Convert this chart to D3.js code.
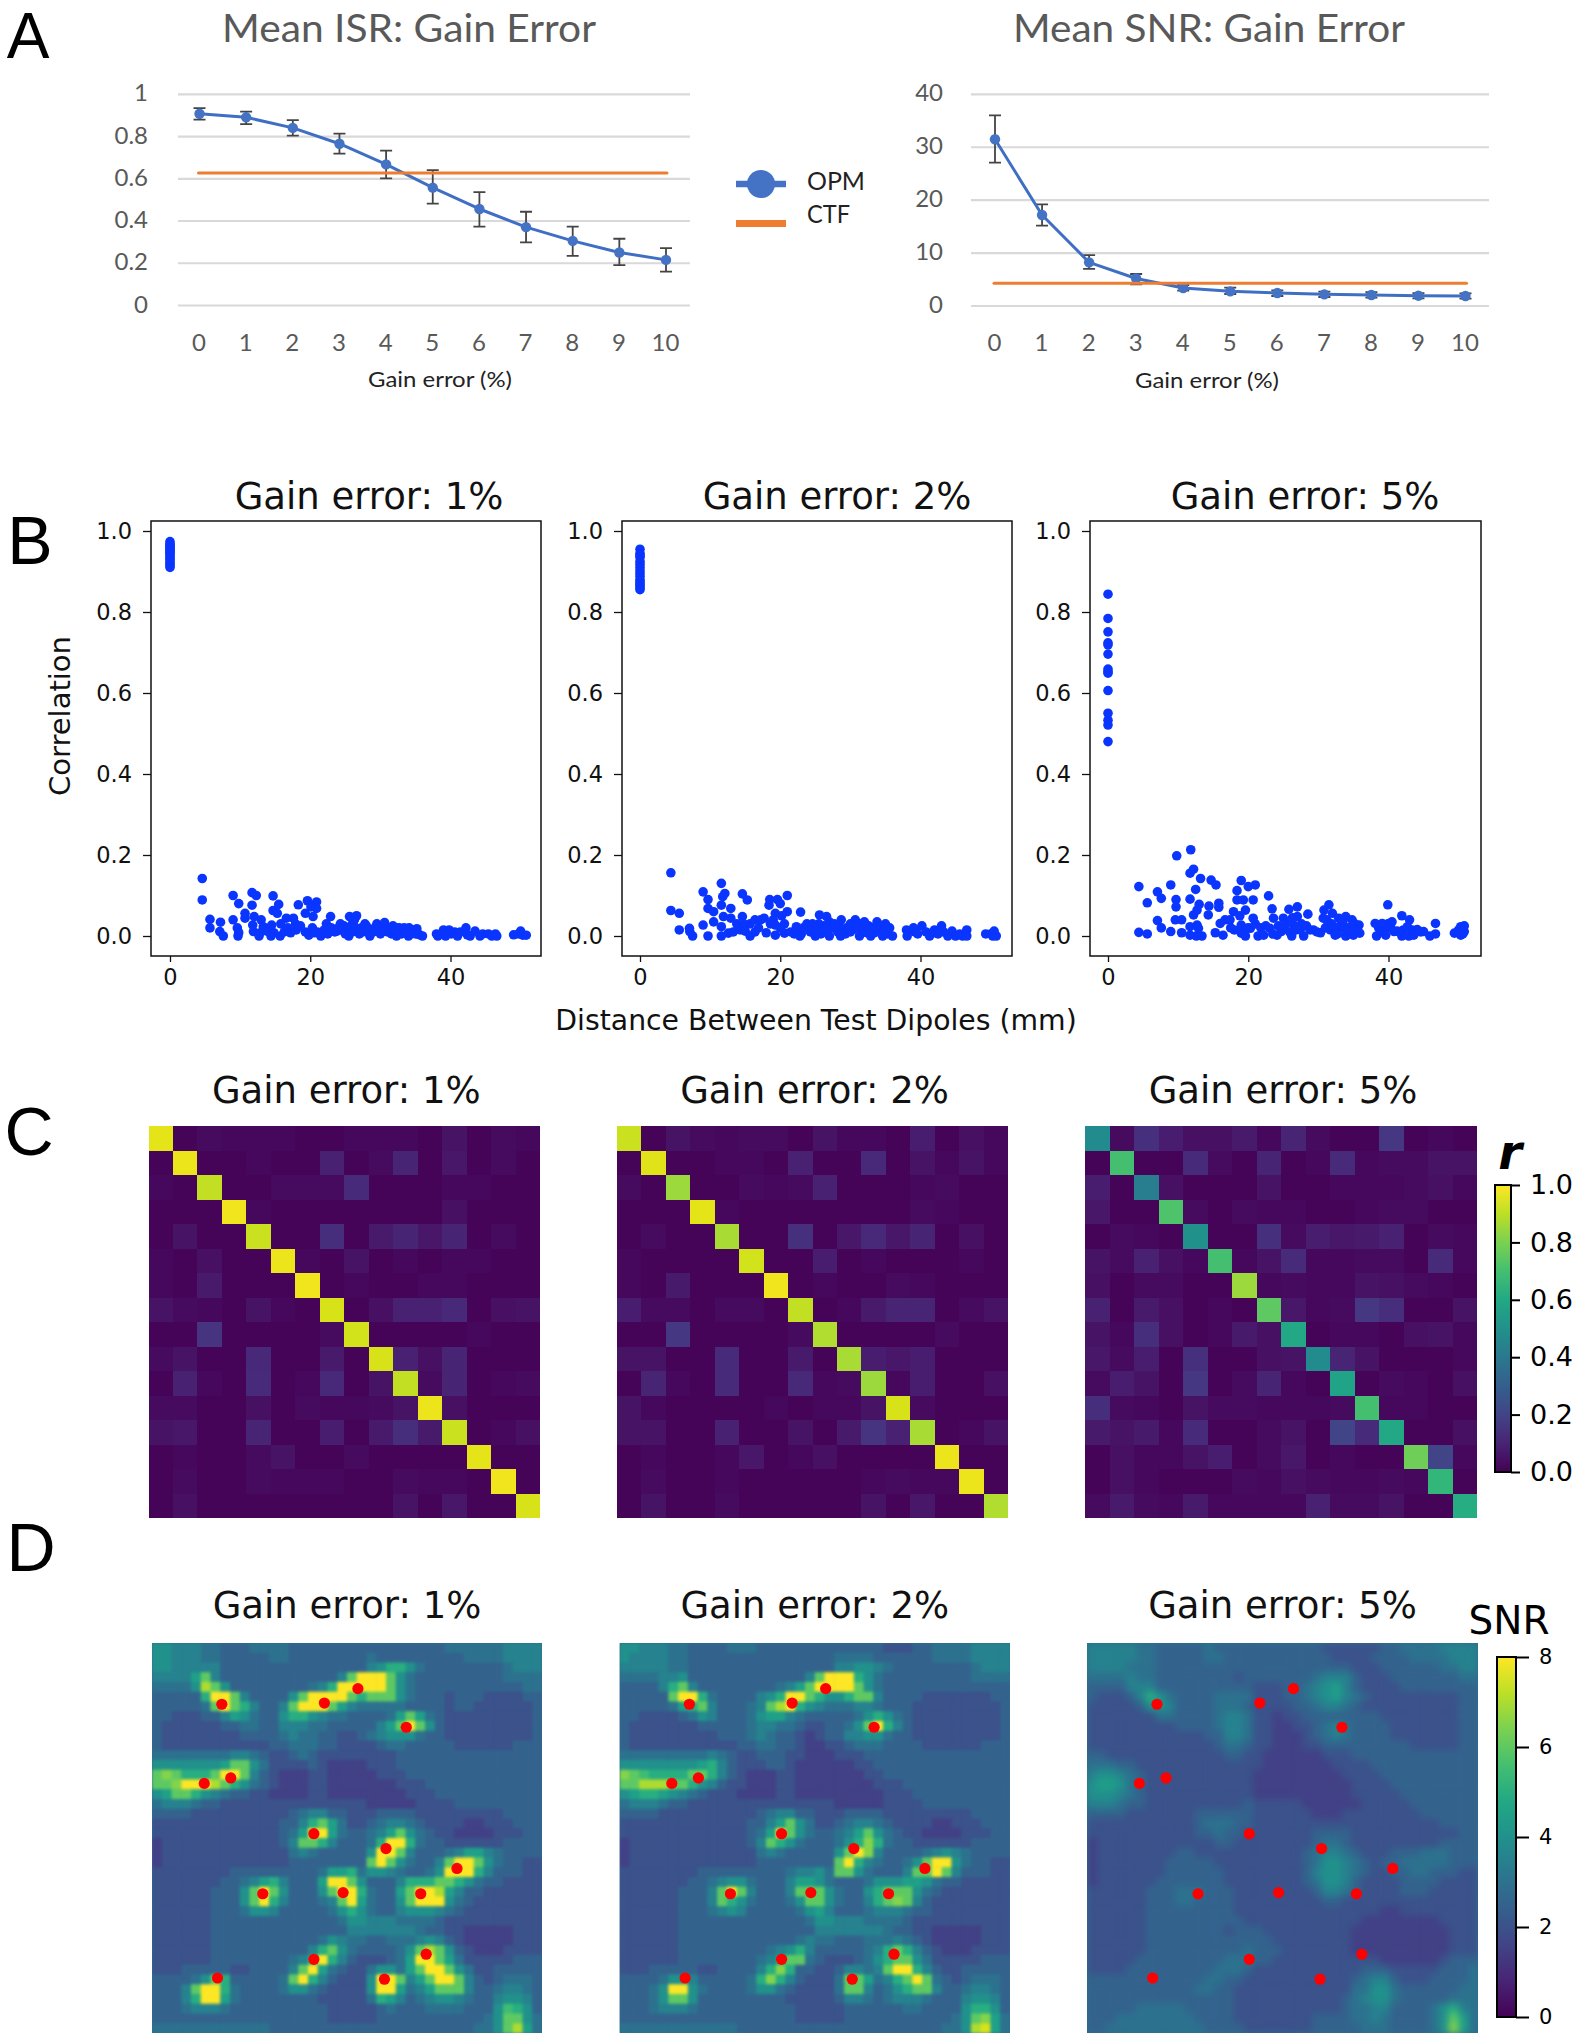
<!DOCTYPE html>
<html>
<head>
<meta charset="utf-8">
<script src="https://cdn.jsdelivr.net/npm/d3@7"></script>
<style>
  body { margin: 0; background: #fff; }
  svg { display: block; }
</style>
</head>
<body>
<svg id="fig" width="1583" height="2040"></svg>
<script>
// panel A
const gainErrors = [0, 1, 2, 3, 4, 5, 6, 7, 8, 9, 10];
const isrMean = [.908, .891, .841, .766, .668, .558, .457, .371, .306, .251, .216];
const isrLow = [.88, .859, .804, .719, .602, .482, .373, .299, .235, .191, .16];
const isrHigh = [.935, .918, .878, .814, .733, .641, .537, .444, .373, .316, .272];
const isrCtf = .627;
const isrTicks = [0, .2, .4, .6, .8, 1];
const snrMean = [31.5, 17.2, 8.25, 5.2, 3.4, 2.77, 2.46, 2.2, 2.08, 1.95, 1.89];
const snrLow = [27.1, 15.2, 7, 4.1, 2.9, 2.27, 1.89, 1.7, 1.6, 1.45, 1.39];
const snrHigh = [36, 19.2, 9.6, 6.05, 3.97, 3.46, 2.96, 2.7, 2.6, 2.45, 2.39];
const snrCtf = 4.3;
const snrTicks = [0, 10, 20, 30, 40];

// panel B: [distance mm, correlation]
const scatter1 = [[0,.974],[0,.968],[0,.962],[0,.955],[0,.95],[0,.945],[0,.94],[0,.935],[0,.93],[0,.925],[0,.92],[0,.915],[0,.91],[0,.965],[0,.958],[0,.948],
  [4.6,.142],[4.6,.089],[5.7,.041],[5.7,.02],[7.2,.034],[7.1,.011],[7.6,0],[9,.1],[9,.04],[9.8,.08],[9.6,.02],[9.7,0],[9.8,.008],[10.7,.056],[10.7,.044],[11.7,.107],[12.3,.1],[11.7,.076],[12,.048],[11.8,.027],[11.9,.011],[12.8,.007],[12.7,0],[13,.04],[13.3,.023],[14.5,.027],[14.4,0],[14.7,.099],[14.7,.063],[15.5,.078],[15.3,.056],[15.7,0],[15.8,.03],[16.3,.01],[16.6,.044],[17.6,.044],[18,.015],[18.3,.077],[19.6,.087],[19.3,.056],[20.9,.084],[20.1,.072],[20.9,.068],[20.4,.048],[19.3,.01],[19.8,.002],[20.3,.02],[20.6,.008],[21,.01],[21.5,0],
  [13.8,.012],[14.8,.008],[16.8,.02],[17.2,.008],[18.6,.025],[17.9,.03],[22.3,.03],[23.8,.012],[24.3,.03],[24.8,.025],[25.2,.02],[26,.03],[26.8,.01],[27.3,.02],[27.8,.03],[28.3,.012],[29.2,.02],[29.8,.012],[30.4,.012],[31.8,.025],[32.2,.02],[33.7,.015],[34.4,.005],
  [22.9,.048],[22,.015],[22.5,.005],[23,.02],[23.5,.01],[24,.02],[24.5,.015],[25,.005],[25.5,0],[26,.01],[26.5,.02],[26.3,.04],[25.6,.048],[27,.005],[26.6,.05],[27.5,.01],[28,.025],[28.5,0],[29,.01],[29.5,.03],[30,.005],[30,.02],[31,.01],[30.6,.033],[31.3,.02],[31.6,.005],[32,.01],[32.3,0],[32.7,.02],[33,.005],[33.4,.02],[34,0],[34.1,.02],[34.6,.015],[35,.005],[35.2,.018],[35.6,.003],[36,0],
  [38,.005],[38.2,0],[39,.015],[39.3,0],[39.8,.015],[40.1,.005],[40.6,.01],[41,0],[41.4,.01],[42.2,.02],[42.4,.003],[42.8,0],[43.5,.012],[44.2,0],[44.6,.005],[45.4,.005],[45.9,0],[46.4,.005],[46.6,0],
  [49,.003],[49.7,.005],[50,.012],[50.3,.002],[50.8,.002]];
const scatter2 = [[0,.955],[0,.945],[0,.935],[0,.925],[0,.918],[0,.91],[0,.902],[0,.895],[0,.888],[0,.88],[0,.875],[0,.87],[0,.865],[0,.86],[0,.855],[0,.94],
  [4.4,.156],[4.4,.063],[5.6,.056],[5.6,.015],[7.05,.019],[7.1,.011],[7.5,0],[9,.109],[9,.027],[9.7,.09],[9.7,.068],[9.7,0],[10.5,.06],[10.5,.035],[11.6,.13],[11.8,.097],[12.1,.105],[11.6,.076],[11.9,.048],[11.6,.023],[11.6,0],[12.95,.068],[12.95,.044],[12.6,.007],[13.3,.01],[14.3,.015],[14.6,.104],[15.3,.089],[14.6,.048],[15.7,.03],[15.7,0],[16.4,.04],[16.4,.01],[17.7,.044],[18,.008],[18.5,.09],[18.4,.076],[19.6,.09],[20,.08],[19.3,.056],[19.3,.027],[19.3,.002],[21,.1],[21,.06],[20.6,.03],[20.6,.007],[22.3,.023],[22.9,.059],
  [13.8,.03],[14.8,.03],[15,.012],[16.9,.02],[17.2,.04],[18.6,.03],[19,.04],[20,.02],[20.2,.05],[21.5,.01],[22.6,.015],[23,.005],[24,.02],[24.9,.015],[25.5,.03],[26.4,.01],[27,.035],[27.9,.02],[28.4,.025],[29.5,.02],[30.3,.015],[31.5,.03],[32.6,.025],[33.4,.008],[34,.015],[35,.03],[39.2,.01],[41.8,.008],[42.8,.015],
  [22,.005],[22.8,0],[23.3,.02],[23.8,.03],[24.3,.01],[24.6,.03],[25,0],[25.3,.015],[25.8,.005],[26.2,.025],[25.6,.052],[26.6,.048],[27,0],[27.3,.02],[27.7,.03],[28.2,.01],[28.6,0],[29,.015],[28.7,.04],[29.3,.005],[30,.01],[30,.03],[30.7,.04],[31,.02],[31.3,0],[31.8,.02],[32,.035],[32.4,.008],[32.9,0],[33.1,.02],[33.8,.035],[34.3,.025],[34.6,0],[35,.015],[35.3,.005],[35.6,.02],[36,0],
  [38,.015],[38.1,0],[39,.02],[39.6,.005],[40.2,.025],[40.8,.01],[41.3,0],[42,.015],[42.5,.005],[43,.025],[43.3,.01],[43.9,0],[44.5,.012],[45,0],[45.6,.005],[46,0],[46.6,.015],[46.6,0],
  [49.3,.005],[50,.005],[50.5,.012],[50.3,0],[50.8,0]];
const scatter3 = [[0,.844],[0,.784],[0,.751],[0,.724],[0,.719],[0,.696],[0,.659],[0,.653],[0,.649],[0,.606],[0,.55],[0,.533],[0,.521],[0,.48],
  [4.4,.122],[4.4,.009],[5.6,.082],[5.6,.005],[7.05,.109],[7.6,.093],[7.05,.038],[7.6,.02],[8.95,.126],[8.95,.011],[9.7,.09],[9.7,.072],[9.8,.198],[9.6,.04],[10.5,.04],[10.5,.008],[11.8,.213],[12.2,.165],[11.7,.155],[12.5,.115],[11.7,.091],[13.2,.142],[13,.078],[12.2,.052],[12.7,.064],[12.7,.027],[11.7,.023],[11.7,.002],[12.6,0],[13.4,0],[12.9,.019],[14.7,.138],[15.4,.126],[14.4,.074],[14.3,.052],[15.8,.081],[15.8,.071],[15.3,.008],[16.4,.002],[16,.031],[16.7,.04],[17.9,.06],[17.4,.04],[18,.015],[18.4,.112],[18.4,.089],[19,.137],[20,.122],[21,.126],[19.3,.089],[20.7,.089],[19.6,.064],[19,.027],[19,.007],[19.6,0],[20.7,.044],[20.3,.019],[21.4,0],[22.2,.002],[22.9,.099],[23.4,.067],[23.6,.044],[23.1,.019],[24.1,.002],[24.7,.011],[25,.044],[25.8,.066],[27,.072],[26.2,0],[26.5,.027],[27,.048],[27.9,0],[28.5,.054],[27.4,.015],[29.3,.015],[30.3,.008],[30.8,.064],[30.7,.044],[31.5,.077],[32,.056],[31.7,.015],[32.4,.002],[32.9,.044],[33.9,.048],[33.6,.019],[33.9,0],[34.8,.04],[35,.002],[35.8,.027],[35.9,.007],[35.3,.015],
  [17.5,.02],[18.8,.05],[20,.02],[21,.03],[21.8,.02],[22.5,.025],[23.5,.005],[24.3,.025],[24.9,.02],[25.4,.03],[25.9,.01],[26.3,.045],[26.8,.015],[27.6,.03],[28.3,.025],[28.8,.015],[29.8,.01],[31,.02],[31.2,.04],[31.9,.03],[32.3,.02],[32.7,.005],[33.1,.025],[33.5,.035],[34.2,.02],[34.5,.005],[34.9,.025],[35.2,.03],[38.6,.02],[39.4,.015],[40.3,.02],[41.2,.012],[42.1,.015],[43.4,.015],[44.6,.01],[50.6,.005],[50.1,.008],
  [38.1,.031],[38.3,0],[38.9,.011],[39.1,.031],[39.9,.077],[40,.031],[40.5,.035],[39.6,.002],[40.8,.011],[41.9,.05],[43,.04],[41.9,0],[42.9,0],[42.7,.023],[43.6,.002],[44.1,.016],[45,.011],[45.9,0],[46.7,.031],[46.7,.005],
  [49.4,.007],[50.3,.023],[50.8,.025],[50.3,.002],[50.8,.011],[50,.015]];
const corrTicks = [0, .2, .4, .6, .8, 1];
const distTicks = [0, 20, 40];

// panel C: 16 x 16 correlation matrices
const corr1 = [
  [.96,.01,.03,.02,.02,.02,.01,.01,.02,.02,.02,.01,.05,.01,.03,.02],
  [.01,.97,.01,.01,.02,.01,.01,.09,.01,.03,.10,.01,.06,.01,.03,.01],
  [.02,.01,.91,.01,.01,.03,.03,.03,.12,.01,.01,.01,.02,.02,.01,.01],
  [.01,.01,.01,.98,.02,.01,.01,.01,.01,.01,.01,.01,.04,.01,.01,.01],
  [.01,.05,.01,.01,.92,.01,.01,.13,.01,.07,.10,.06,.10,.01,.03,.01],
  [.02,.01,.04,.01,.01,.97,.02,.01,.05,.01,.02,.01,.02,.02,.01,.01],
  [.02,.01,.07,.01,.01,.01,.98,.01,.02,.01,.01,.02,.02,.01,.01,.01],
  [.05,.03,.02,.01,.05,.02,.01,.94,.01,.04,.09,.09,.11,.01,.04,.05],
  [.01,.01,.15,.01,.01,.01,.01,.03,.93,.01,.01,.01,.01,.02,.01,.01],
  [.03,.05,.01,.01,.11,.01,.01,.07,.01,.94,.09,.04,.10,.01,.01,.01],
  [.01,.09,.02,.01,.12,.01,.02,.11,.01,.05,.91,.03,.10,.01,.02,.03],
  [.03,.03,.01,.01,.04,.01,.03,.02,.02,.03,.05,.97,.04,.01,.01,.01],
  [.05,.06,.01,.01,.10,.01,.01,.08,.01,.07,.13,.07,.92,.01,.02,.04],
  [.01,.02,.01,.01,.03,.05,.01,.01,.03,.01,.01,.01,.01,.96,.01,.01],
  [.01,.03,.01,.01,.03,.02,.02,.02,.01,.01,.03,.02,.02,.01,.98,.01],
  [.01,.04,.01,.01,.01,.01,.01,.01,.01,.01,.05,.01,.06,.01,.01,.94]];
const corr2 = [
  [.92,.01,.05,.03,.02,.03,.03,.01,.05,.02,.02,.01,.08,.01,.04,.02],
  [.01,.95,.01,.01,.02,.02,.01,.09,.01,.01,.11,.01,.05,.02,.05,.02],
  [.03,.01,.85,.01,.01,.03,.02,.03,.09,.01,.01,.01,.02,.03,.01,.01],
  [.01,.01,.01,.96,.02,.01,.01,.01,.01,.01,.01,.01,.03,.02,.01,.01],
  [.01,.03,.01,.01,.87,.01,.01,.14,.01,.06,.11,.06,.10,.01,.04,.01],
  [.02,.01,.01,.01,.01,.93,.01,.01,.08,.01,.02,.01,.01,.01,.02,.01],
  [.02,.01,.07,.01,.01,.01,.98,.01,.02,.01,.01,.03,.02,.01,.01,.01],
  [.08,.03,.03,.01,.03,.03,.01,.91,.01,.02,.07,.10,.10,.01,.03,.05],
  [.01,.01,.16,.01,.01,.01,.01,.03,.88,.01,.01,.01,.01,.03,.01,.01],
  [.05,.05,.01,.01,.12,.01,.01,.07,.01,.87,.08,.06,.08,.01,.01,.01],
  [.01,.10,.02,.01,.12,.01,.01,.11,.02,.03,.85,.02,.08,.01,.01,.04],
  [.05,.02,.01,.01,.01,.01,.02,.01,.02,.02,.05,.94,.03,.01,.01,.01],
  [.05,.05,.01,.01,.09,.01,.01,.05,.01,.07,.15,.09,.87,.01,.02,.05],
  [.01,.02,.01,.01,.02,.06,.01,.02,.04,.01,.01,.01,.01,.97,.01,.01],
  [.01,.03,.01,.01,.02,.01,.01,.01,.01,.01,.02,.03,.02,.02,.97,.01],
  [.01,.05,.01,.01,.03,.01,.01,.01,.01,.01,.05,.01,.06,.01,.01,.88]];
const corr3 = [
  [.48,.03,.14,.08,.04,.04,.07,.02,.10,.03,.01,.01,.16,.01,.02,.01],
  [.01,.70,.01,.01,.12,.03,.01,.10,.01,.02,.12,.02,.03,.03,.05,.05],
  [.08,.01,.42,.04,.01,.01,.01,.05,.01,.01,.02,.02,.02,.03,.04,.02],
  [.06,.01,.01,.72,.03,.01,.03,.02,.02,.01,.01,.02,.03,.03,.01,.01],
  [.01,.03,.02,.01,.50,.01,.01,.14,.03,.08,.06,.07,.09,.01,.03,.02],
  [.05,.03,.09,.04,.02,.70,.02,.05,.12,.02,.02,.03,.03,.01,.12,.02],
  [.04,.01,.03,.03,.01,.01,.85,.02,.03,.02,.02,.05,.04,.03,.02,.01],
  [.09,.01,.07,.04,.01,.02,.01,.75,.06,.02,.03,.16,.13,.01,.01,.05],
  [.05,.02,.13,.04,.01,.02,.07,.04,.60,.01,.02,.02,.01,.04,.05,.02],
  [.06,.03,.08,.01,.14,.01,.01,.04,.05,.48,.10,.05,.01,.01,.01,.02],
  [.03,.08,.05,.01,.16,.01,.03,.10,.02,.01,.58,.01,.03,.02,.01,.04],
  [.13,.03,.02,.01,.05,.03,.03,.02,.02,.02,.03,.70,.02,.02,.01,.01],
  [.07,.05,.07,.02,.12,.01,.01,.03,.05,.01,.20,.12,.60,.01,.01,.04],
  [.01,.04,.02,.02,.05,.08,.01,.03,.06,.01,.02,.01,.01,.78,.20,.02],
  [.01,.04,.02,.01,.01,.01,.03,.02,.04,.03,.02,.02,.03,.02,.66,.01],
  [.03,.07,.03,.02,.07,.02,.02,.02,.02,.09,.03,.03,.05,.01,.01,.62]];
const rTicks = [0, .2, .4, .6, .8, 1];

// panel D: SNR maps on a 40 x 40 grid
// one base-17 digit per cell, in half SNR units, spaces only for counting
const snrMap1 = [
  "8877766555 6666555555 5555555555 6666667777",
  "8877766555 5566555555 5565555555 5566667777",
  "8877777555 5555555555 5578aa8655 5555556777",
  "77779c7555 5555555557 cgggc86555 5555556666",
  "66668ec855 55555567ag ggggc86555 5555555566",
  "55555aggc7 55558cgggg caccc86555 4555444455",
  "555556cgca 7557cgggc9 7666665555 4554444445",
  "5544455798 6558aa8766 555569c965 4444444445",
  "5444444556 6557776655 55579cgc85 4444444445",
  "5444444445 5556766554 4567888655 4444444445",
  "5444444444 4455666554 4445665555 5444444555",
  "6666666677 6544565444 4444455555 5555555555",
  "88888889cc 8644445433 3344455555 5555555555",
  "cdcaaacggc 7543334433 3334445555 5555555555",
  "ccdgggeca8 6543334433 3333344455 5555555555",
  "89cca87655 4433334433 3333334445 5555555555",
  "6777655444 4444444444 4433333444 4555555555",
  "5555444444 4444567755 4445555444 4444445555",
  "4444444444 444557ac96 4456776544 4433444555",
  "4444444444 444569gg96 55679c8654 4333344455",
  "3444444444 44457cca75 556agga655 4444445555",
  "3444444444 4444676555 558ggc7555 6799765555",
  "3444444444 4444555555 55cgc86557 cggc865544",
  "4444444455 5555555699 a688765568 ggga755544",
  "4444444556 79a75559gg c85557aaac ca86554444",
  "4444445558 cgc85558cg ga6559cgge 9755444444",
  "4444445558 cga755567c g96558cggg 8654444444",
  "4444445556 8875555568 a865578887 6544444444",
  "4444445555 5555555556 8877766665 4444444444",
  "4444445555 5555555555 7777777655 4433333444",
  "4444445555 5555555687 6655666787 5433333444",
  "4444445555 5555557ac8 6555568cec 8543334444",
  "4444445555 555567aga7 5444569ggc 9644444555",
  "4445555544 55557cg965 4468869cgg c864455555",
  "555568ca55 5556cga754 448ggc79cg gc75456665",
  "5557cgga65 5556886544 448gg9679c cc75567765",
  "5557agg965 5555555444 446a975678 8765578875",
  "5556777655 5555555544 4445655566 665558ba85",
  "5555555555 5555555544 4445555555 555568cc86",
  "6666666666 6655555555 5555555555 555668ce96"];
const snrMap2 = [
  "8877766555 5666555555 5555555444 5566667777",
  "8777766555 5555555555 5566665555 5566667777",
  "7777766555 5555555555 5577887655 5555556777",
  "6666778555 5555555557 cggga86555 5555556666",
  "55557ac755 555555679c ggggc86555 5555555555",
  "55555cgga6 555578aggc a88acc7555 5444444455",
  "5555569ac7 55567cega8 7666776555 4444444445",
  "5544445687 5556899765 555568a865 4444444445",
  "5444444455 5556776654 45568cga75 4444444445",
  "5444444444 5556765543 4557788655 4444444445",
  "5444444444 4455665543 3445666555 5444444555",
  "6666666667 6544555443 3344455555 5555555555",
  "888888889a 7544455433 3333445555 5555555555",
  "dcbaaaacca 7543334433 3333344555 5555555555",
  "cceeecca87 5443334433 3333334445 5555555555",
  "89aa987654 4433334433 3333333444 5555555555",
  "6777655444 4444444444 4433333444 4555555555",
  "5555444444 4444567755 4445555444 4444445555",
  "4444444444 4445579c86 4456776544 4433444555",
  "4444444444 444569gc86 55679c8654 4333344455",
  "3444444444 44457ca865 5568ada655 4444445555",
  "3444444444 4444676555 558cgd7555 5678765555",
  "3444444444 4444555555 55cga76556 8cgg865544",
  "4444444455 5555555677 86cc865557 ccgc755544",
  "4444444556 7886555799 8655568889 9865544444",
  "4444445557 cgc75557cc c86558accc 8654444444",
  "4444445557 ca8655568c c86557acdc 7544444444",
  "4444445556 7875555568 9755567776 5544444444",
  "4444445555 5555555556 8877766665 4444444444",
  "4444445555 5555555555 7777777655 4433333444",
  "4444445555 5555555567 6655566676 5433333444",
  "4444445555 55555678a7 5555567aca 7543334444",
  "4444445555 5555679cc6 5444568acc 8644444555",
  "4445555544 55557ada55 4457767cgg a754455555",
  "5555688755 5556ada754 446cc967ac gc65456665",
  "55568gg865 5556886544 446cc7568a cc75567765",
  "55568cc855 5555555444 4457765677 7655578875",
  "5556777655 5555555544 4445555556 655558aa85",
  "5555555555 5555555544 4445555555 555568cd96",
  "6666666666 6655555555 5555555555 555668ef96"];
const snrMap3 = [
  "7777766555 5565555555 5555444444 5566667777",
  "7777766555 5566555555 5555544445 5556666777",
  "7777666555 5555555555 5555555444 5555556677",
  "6666766555 5555545555 5556777544 4555555566",
  "5555777555 5555555444 5567897544 4455555555",
  "544457a865 5556666444 5567897654 4444444455",
  "4444458875 5556665444 4556776544 4444444455",
  "4444444665 5556776443 4455555555 4444444455",
  "4444444445 5556776443 3445676555 5444444455",
  "4444444444 4455776443 3345676555 5444444455",
  "4444444444 4445665443 3344555555 5554444455",
  "5544444444 4444554433 3333444555 5555555555",
  "6665544444 4444444433 3333344445 5555555555",
  "7887654444 4444444333 3333334444 5555555555",
  "8998654444 4444444333 3333333444 4555555555",
  "8887654444 4444444333 3333333444 4455555555",
  "7776554444 4444445444 4433333344 4445555555",
  "5555444444 4555555444 4443334444 4444555555",
  "4444444444 4566655444 4444444444 4444445555",
  "4444444444 4556554444 4445555444 4444444455",
  "3444444444 4445544444 4445665444 4444445555",
  "3444444445 5444444444 4456776544 4555666555",
  "3444444455 5554444444 4456887654 5566666555",
  "3444444455 5555444444 4457887654 4556655544",
  "3444444555 5555444444 4456887544 4455554444",
  "4444445556 6655544444 4445776544 4455544444",
  "4444445556 6555544444 4444554444 4444444444",
  "4444445555 5555544444 4444444444 3344444444",
  "4444445555 5555554444 4444444433 3333334444",
  "4444445555 5555455544 4444444333 3333333444",
  "4444445555 5555555554 4444444333 3333333444",
  "4444445555 5555556555 4444444333 3333333444",
  "4444455555 5555666554 4444444444 3333334555",
  "4444555555 5556665444 4444444455 5444445556",
  "5555555555 5566554444 4444444567 7544455556",
  "5555555555 5665544444 4444444668 8655555566",
  "5555555555 5555544444 4444445678 8655555666",
  "5555566666 5555544444 4444445667 7555568a76",
  "5556666666 6555544444 4445555667 6555568c96",
  "5566666666 6655554444 4445555566 6555568d96"];
const dipoleX = [17.9, 44.2, 52.8, 65.2, 13.4, 20.2, 41.5, 60, 78.2, 28.4, 49, 68.9, 41.5, 16.8, 59.6, 70.3];
const dipoleY = [15.7, 15.4, 11.7, 21.6, 36, 34.6, 48.9, 52.7, 57.8, 64.3, 64, 64.3, 81.1, 85.9, 86.2, 79.8];
const snrTickValues = [0, 2, 4, 6, 8];

const panelTitles = ["Gain error: 1%", "Gain error: 2%", "Gain error: 5%"];

const svg = d3.select("#fig");
const dejavu = "'DejaVu Sans', sans-serif";
const calibriLike = "Lato, 'Open Sans', sans-serif";
const letterFont = "'Liberation Sans', sans-serif";
const viridisR = d3.scaleSequential(d3.interpolateViridis).domain([0, 1]);
const viridisSnr = d3.scaleSequential(d3.interpolateViridis).domain([0, 8]);

function label(x, y, text, size, opts = {}) {
    const t = svg.append("text")
        .attr("x", x).attr("y", y).attr("dy", ".35em")
        .attr("text-anchor", opts.anchor || "middle")
        .attr("font-family", opts.family || dejavu)
        .attr("font-size", size)
        .attr("fill", opts.fill || "#111")
        .text(text);
    if (opts.width) t.attr("textLength", opts.width).attr("lengthAdjust", "spacingAndGlyphs");
    if (opts.italic) t.attr("font-style", "italic").attr("font-weight", "bold");
    if (opts.rotate) t.attr("transform", `rotate(${opts.rotate} ${x} ${y})`);
    return t;
}

function styleTicks(g, size, family, fill) {
    g.selectAll("text").attr("font-size", size).attr("font-family", family).attr("fill", fill);
}

function drawLinePanel(box, title, titleWidth, mean, low, high, ctf, ticks, fmt) {
    const x = d3.scaleLinear().domain([0, 10]).range([box.x0, box.x1]);
    const y = d3.scaleLinear().domain([0, d3.max(ticks)]).range([box.y0, box.y1]);
    const g = svg.append("g");

    g.selectAll(".grid").data(ticks).join("line")
        .attr("x1", box.gridX0).attr("x2", box.gridX1)
        .attr("y1", d => y(d)).attr("y2", d => y(d))
        .attr("stroke", "#d9d9d9").attr("stroke-width", 2.2);

    const yAxis = g.append("g").attr("transform", `translate(${box.labelX + 8},-1)`)
        .call(d3.axisLeft(y).tickValues(ticks).tickSize(0).tickPadding(8).tickFormat(fmt));
    yAxis.select(".domain").remove();
    styleTicks(yAxis, 24, calibriLike, "#595959");

    const xAxis = g.append("g").attr("transform", `translate(-1,${box.tickY})`)
        .call(d3.axisBottom(x).tickValues(gainErrors).tickSize(0).tickPadding(0).tickFormat(d3.format("d")));
    xAxis.select(".domain").remove();
    xAxis.selectAll("text").attr("dy", "0.35em").attr("y", 0);
    styleTicks(xAxis, 24, calibriLike, "#595959");

    // error bars
    gainErrors.forEach((e, i) => {
        const cx = x(e);
        g.append("path")
            .attr("d", `M${cx - 6},${y(high[i])}H${cx + 6}M${cx},${y(high[i])}V${y(low[i])}M${cx - 6},${y(low[i])}H${cx + 6}`)
            .attr("fill", "none").attr("stroke", "#444").attr("stroke-width", 1.8);
    });

    const line = d3.line().x((d, i) => x(gainErrors[i])).y(d => y(d));
    g.append("path").attr("d", line(mean))
        .attr("fill", "none").attr("stroke", "#3f6fc4").attr("stroke-width", 3)
        .attr("stroke-linejoin", "round");
    g.selectAll(".pt").data(mean).join("circle")
        .attr("cx", (d, i) => x(gainErrors[i])).attr("cy", d => y(d)).attr("r", 5.2)
        .attr("fill", "#4472c4");

    g.append("line")
        .attr("x1", x(0) - 1).attr("x2", x(10) + 1)
        .attr("y1", y(ctf)).attr("y2", y(ctf))
        .attr("stroke", "#ed7d31").attr("stroke-width", 3).attr("stroke-linecap", "round");

    label(box.titleX, 29, title, 38, { family: calibriLike, fill: "#595959", width: titleWidth });
    label(box.xLabelX, box.xLabelY, "Gain error (%)", 22, { family: calibriLike, fill: "#222", width: 144 });
}

function drawScatterPanel(box, title, points, showLabel) {
    const x = d3.scaleLinear().domain([0, 40]).range([box.zero, box.zero + 280.5]);
    const y = d3.scaleLinear().domain([0, 1]).range([936, 531]);
    const g = svg.append("g");

    const xAxis = g.append("g").attr("transform", "translate(0,956)")
        .call(d3.axisBottom(x).tickValues(distTicks).tickSize(6).tickPadding(7));
    const yAxis = g.append("g").attr("transform", `translate(${box.x0},0)`)
        .call(d3.axisLeft(y).tickValues(corrTicks).tickSize(8).tickPadding(11).tickFormat(d3.format(".1f")));
    [xAxis, yAxis].forEach(a => {
        a.select(".domain").remove();
        a.selectAll("line").attr("stroke", "#111").attr("stroke-width", 1.3);
        styleTicks(a, 22.5, dejavu, "#111");
    });

    g.selectAll(".pt").data(points).join("circle")
        .attr("cx", d => x(d[0])).attr("cy", d => y(d[1])).attr("r", 4.8)
        .attr("fill", "#0a35ff");
    g.append("rect")
        .attr("x", box.x0).attr("y", 521).attr("width", box.x1 - box.x0).attr("height", 435)
        .attr("fill", "none").attr("stroke", "#111").attr("stroke-width", 1.5);

    label(box.titleX, 496, title, 37);
    if (showLabel) label(60, 716, "Correlation", 29, { rotate: -90 });
}

function drawCorrMap(box, title, matrix) {
    const band = d3.range(16);
    const x = d3.scaleBand().domain(band).range([box.x0, box.x1]);
    const y = d3.scaleBand().domain(band).range([1126, 1518]);
    const g = svg.append("g");
    matrix.forEach((row, j) => {
        g.selectAll(null).data(row).join("rect")
            .attr("x", (d, i) => x(i)).attr("y", y(j))
            .attr("width", x.bandwidth()).attr("height", y.bandwidth())
            .attr("fill", d => viridisR(d))
            .attr("shape-rendering", "crispEdges");
    });
    label((box.x0 + box.x1) / 2 + 2, 1090, title, 37);
}

function drawSnrMap(box, id, blurId, title, rows) {
    const cells = rows.map(r => r.replace(/ /g, "").split("").map(c => parseInt(c, 17) / 2));
    const band = d3.range(40);
    const x = d3.scaleBand().domain(band).range([box.x0, box.x1]);
    const y = d3.scaleBand().domain(band).range([1643, 2033]);
    const px = d3.scaleLinear().domain([0, 100]).range([box.x0, box.x1]);
    const py = d3.scaleLinear().domain([0, 100]).range([1643, 2033]);

    svg.append("clipPath").attr("id", id).append("rect")
        .attr("x", box.x0).attr("y", 1643).attr("width", box.x1 - box.x0).attr("height", 390);
    const holder = svg.append("g").attr("clip-path", `url(#${id})`);
    holder.append("rect")
        .attr("x", box.x0).attr("y", 1643).attr("width", box.x1 - box.x0).attr("height", 390)
        .attr("fill", viridisSnr(2.8));
    const g = holder.append("g").attr("filter", `url(#${blurId})`);
    cells.forEach((row, j) => {
        g.selectAll(null).data(row).join("rect")
            .attr("x", (d, i) => x(i)).attr("y", y(j))
            .attr("width", x.bandwidth() + .5).attr("height", y.bandwidth() + .5)
            .attr("fill", d => viridisSnr(d));
    });

    svg.append("g").selectAll("circle").data(dipoleX).join("circle")
        .attr("cx", d => px(d)).attr("cy", (d, i) => py(dipoleY[i])).attr("r", 5.6)
        .attr("fill", "#ff0000");

    label((box.x0 + box.x1) / 2, 1605, title, 37);
}

function drawColorbar(box, id, scale, ticks, fmt, tickLen, size) {
    const [d0, d1] = scale.domain();
    const grad = svg.append("linearGradient").attr("id", id)
        .attr("x1", 0).attr("x2", 0).attr("y1", 1).attr("y2", 0);
    d3.range(0, 1.01, .1).forEach(t => {
        grad.append("stop").attr("offset", t).attr("stop-color", scale(d0 + t * (d1 - d0)));
    });
    svg.append("rect")
        .attr("x", box.x).attr("y", box.y0).attr("width", box.w).attr("height", box.y1 - box.y0)
        .attr("fill", `url(#${id})`).attr("stroke", "#000").attr("stroke-width", 2);
    const y = d3.scaleLinear().domain([d0, d1]).range([box.y1, box.y0]);
    const axis = svg.append("g").attr("transform", `translate(${box.x + box.w},0)`)
        .call(d3.axisRight(y).tickValues(ticks).tickSize(tickLen).tickPadding(10).tickFormat(fmt));
    axis.select(".domain").remove();
    axis.selectAll("line").attr("stroke", "#000").attr("stroke-width", 2);
    styleTicks(axis, size, dejavu, "#000");
}

// blur filters used to soften the SNR map cells
[["softHot", 1.8], ["softFlat", 3.6]].forEach(([id, sd]) => {
    svg.append("filter").attr("id", id)
        .attr("color-interpolation-filters", "sRGB")
        .attr("x", "-5%").attr("y", "-5%").attr("width", "110%").attr("height", "110%")
        .append("feGaussianBlur").attr("stdDeviation", sd);
});

// panel letters
[["A", 28, 36, 64], ["B", 30, 540, 68], ["C", 29, 1131, 68], ["D", 31, 1547, 68]].forEach(d => {
    label(d[1], d[2], d[0], d[3], { family: letterFont, fill: "#000" });
});

// A
drawLinePanel({ x0: 199.5, x1: 666, y0: 305.5, y1: 94.3, gridX0: 178, gridX1: 690, labelX: 148, tickY: 343, titleX: 409, xLabelX: 440, xLabelY: 379 },
    "Mean ISR: Gain Error", 374, isrMean, isrLow, isrHigh, isrCtf, isrTicks, d3.format("~g"));
drawLinePanel({ x0: 995, x1: 1465.5, y0: 306, y1: 94.3, gridX0: 971, gridX1: 1489, labelX: 943, tickY: 343, titleX: 1209, xLabelX: 1207, xLabelY: 380 },
    "Mean SNR: Gain Error", 392, snrMean, snrLow, snrHigh, snrCtf, snrTicks, d3.format("d"));

// A legend
svg.append("line").attr("x1", 736).attr("x2", 786).attr("y1", 184).attr("y2", 184)
    .attr("stroke", "#4472c4").attr("stroke-width", 6.5);
svg.append("circle").attr("cx", 761).attr("cy", 184).attr("r", 14).attr("fill", "#4472c4");
svg.append("rect").attr("x", 736).attr("y", 220).attr("width", 50).attr("height", 7).attr("fill", "#ed7d31");
label(807, 181, "OPM", 25, { anchor: "start", family: calibriLike, fill: "#222", width: 58 });
label(807, 214, "CTF", 25, { anchor: "start", family: calibriLike, fill: "#222", width: 43 });

// B
drawScatterPanel({ x0: 151, x1: 541, zero: 170, titleX: 369 }, panelTitles[0], scatter1, true);
drawScatterPanel({ x0: 622, x1: 1012, zero: 640, titleX: 837 }, panelTitles[1], scatter2, false);
drawScatterPanel({ x0: 1090, x1: 1481, zero: 1108, titleX: 1305 }, panelTitles[2], scatter3, false);
label(816, 1020, "Distance Between Test Dipoles (mm)", 28.3);

// C
drawCorrMap({ x0: 148.5, x1: 540 }, panelTitles[0], corr1);
drawCorrMap({ x0: 617, x1: 1008 }, panelTitles[1], corr2);
drawCorrMap({ x0: 1085, x1: 1477 }, panelTitles[2], corr3);
drawColorbar({ x: 1495, w: 16, y0: 1185, y1: 1472 }, "cbarR", viridisR, rTicks, d3.format(".1f"), 9, 27);
label(1510, 1152, "r", 48, { italic: true, fill: "#000" });

// D
drawSnrMap({ x0: 152, x1: 542 }, "clipD1", "softHot", panelTitles[0], snrMap1);
drawSnrMap({ x0: 619.5, x1: 1010 }, "clipD2", "softHot", panelTitles[1], snrMap2);
drawSnrMap({ x0: 1087, x1: 1478 }, "clipD3", "softFlat", panelTitles[2], snrMap3);
drawColorbar({ x: 1497, w: 19, y0: 1657, y1: 2017 }, "cbarS", viridisSnr, snrTickValues, d3.format("d"), 13, 21);
label(1509, 1620, "SNR", 39, { fill: "#000" });
</script>
</body>
</html>
